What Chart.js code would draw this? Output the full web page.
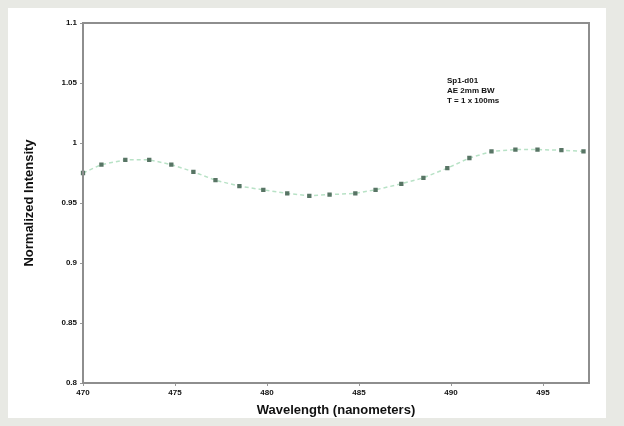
<!DOCTYPE html>
<html lang="en">
<head>
    <meta charset="UTF-8">
    <title>Normalized Intensity</title>
    <script src="https://cdn.jsdelivr.net/npm/chart.js@4/dist/chart.umd.min.js"></script>
    <style>
        html, body {margin: 0; padding: 0; background: #e8e9e4;}
        #panel {position: absolute; left: 8px; top: 8px; width: 598px; height: 410px; background: #fff;}
        * {font-family: "Liberation Sans", Arial, sans-serif;}
    </style>
</head>
<body>
<div id="panel"><canvas id="chart" width="598" height="410"></canvas></div>
<script>

    const wavelength = [470, 471.0, 472.3, 473.6, 474.8, 476.0, 477.2, 478.5, 479.8, 481.1, 482.3,
        483.4, 484.8, 485.9, 487.3, 488.5, 489.8, 491.0, 492.2, 493.5, 494.7, 496.0, 497.2];
    const intensity = [0.975, 0.982, 0.986, 0.986, 0.982, 0.976, 0.969, 0.964, 0.961, 0.958, 0.956,
        0.957, 0.958, 0.961, 0.966, 0.971, 0.979, 0.9875, 0.993, 0.9945, 0.9945, 0.994, 0.993];
    const xTicks = [470, 475, 480, 485, 490, 495];
    const yTicks = [0.8, 0.85, 0.9, 0.95, 1, 1.05, 1.1];
    const noteLines = ['Sp1-d01', 'AE 2mm BW', 'T = 1 x 100ms'];

    const points = wavelength.map((w, i) => ({x: w, y: intensity[i]}));

    // box round the plot area and the small note in the upper right
    const frame = {
        id: 'frame',
        afterDraw(chart) {
            const {ctx, chartArea: a} = chart;
            ctx.save();
            ctx.strokeStyle = '#8e8e8e';
            ctx.lineWidth = 2;
            ctx.strokeRect(a.left, a.top, a.right - a.left, a.bottom - a.top);
            ctx.fillStyle = '#111';
            ctx.font = 'bold 8px "Liberation Sans", Arial, sans-serif';
            ctx.textBaseline = 'top';
            noteLines.forEach((t, i) => ctx.fillText(t, 439, 69 + i * 10));
            ctx.restore();
        }
    };

    new Chart('chart', {
        type: 'scatter',
        data: {
            datasets: [{
                data: points,
                showLine: true,
                borderColor: '#b8e2c6',
                borderWidth: 1.5,
                borderDash: [4, 3],
                pointStyle: 'rect',
                pointRadius: 2,
                pointBackgroundColor: '#587565',
                pointBorderColor: '#587565',
                clip: false
            }]
        },
        options: {
            responsive: false,
            animation: false,
            layout: {padding: {top: 15, right: 17, left: 0, bottom: 0}},
            plugins: {legend: {display: false}, tooltip: {enabled: false}},
            scales: {
                x: {
                    type: 'linear',
                    min: 470,
                    max: 497.5,
                    afterBuildTicks: s => { s.ticks = xTicks.map(v => ({value: v})); },
                    afterFit: s => { s.height = 35; },
                    grid: {drawOnChartArea: false, tickLength: 3, color: '#999'},
                    border: {display: false},
                    ticks: {color: '#111', font: {size: 8, weight: 'bold'}, padding: 2,
                        callback: v => String(v)},
                    title: {display: true, text: 'Wavelength (nanometers)', color: '#111',
                        font: {size: 13, weight: 'bold'}, padding: {top: 0, bottom: 0}}
                },
                y: {
                    min: 0.8,
                    max: 1.1,
                    afterBuildTicks: s => { s.ticks = yTicks.map(v => ({value: v})); },
                    afterFit: s => { s.width = 75; },
                    grid: {drawOnChartArea: false, tickLength: 3, color: '#999'},
                    border: {display: false},
                    ticks: {color: '#111', font: {size: 8, weight: 'bold'}, padding: 3,
                        callback: v => String(+v.toFixed(2))},
                    title: {display: true, text: 'Normalized Intensity', color: '#111',
                        font: {size: 13, weight: 'bold'}, padding: {top: 14, bottom: 0}}
                }
            }
        },
        plugins: [frame]
    });

</script>
</body>
</html>
